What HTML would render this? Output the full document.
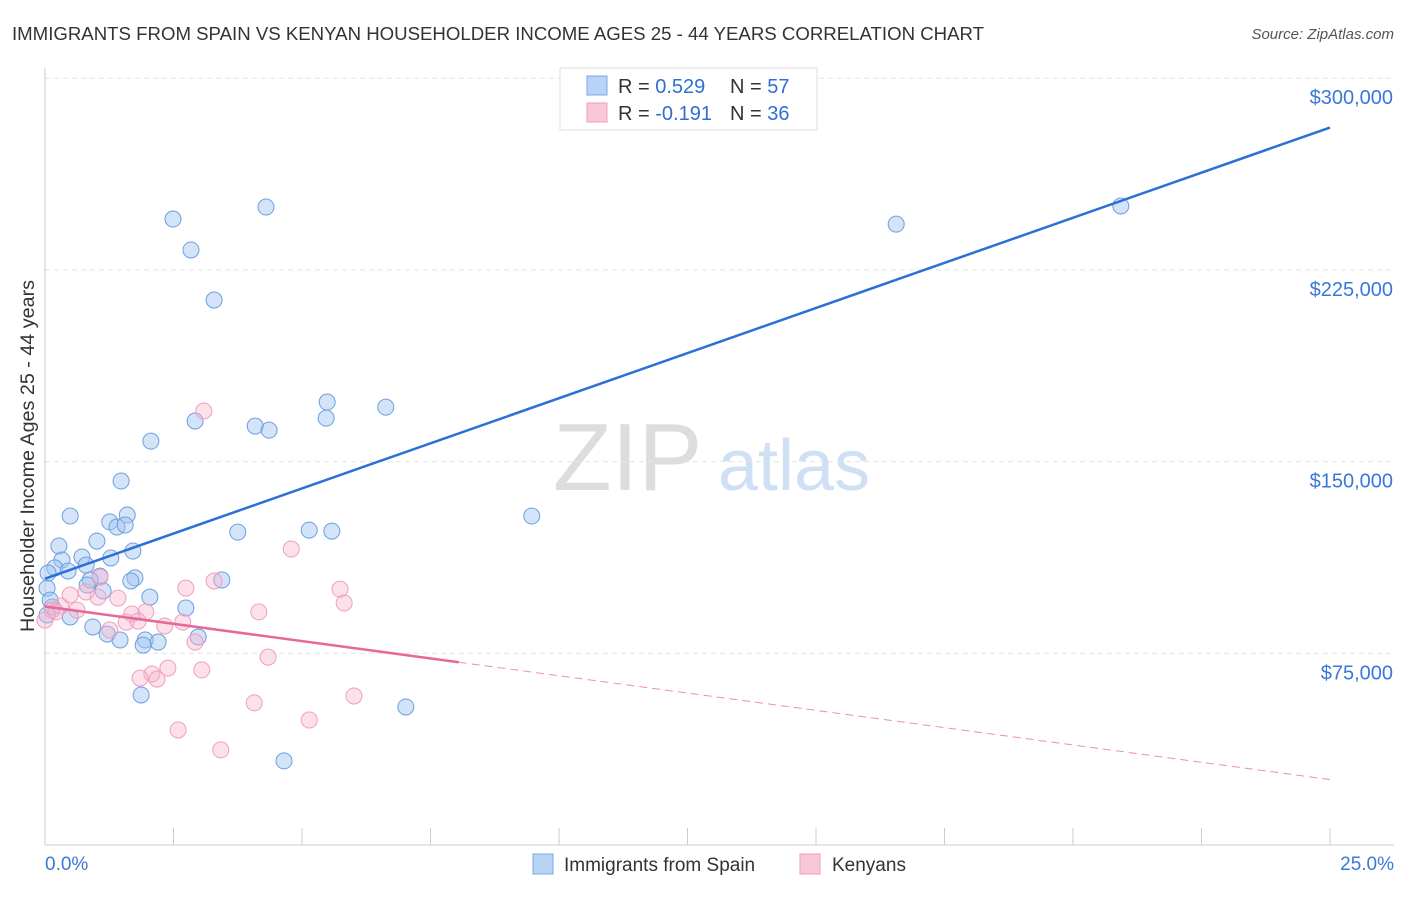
<!DOCTYPE html>
<html><head><meta charset="utf-8"><style>
body{margin:0;background:#fff;font-family:"Liberation Sans",sans-serif;}
svg text{font-family:"Liberation Sans",sans-serif;}
</style></head><body>
<svg id="chart" width="1406" height="892" xmlns="http://www.w3.org/2000/svg">
<text x="12" y="40" font-size="18" fill="#333" textLength="972" lengthAdjust="spacingAndGlyphs">IMMIGRANTS FROM SPAIN VS KENYAN HOUSEHOLDER INCOME AGES 25 - 44 YEARS CORRELATION CHART</text>
<text x="1394" y="39" font-size="15" fill="#555" font-style="italic" text-anchor="end">Source: ZipAtlas.com</text>
<text x="34" y="456" font-size="19" fill="#333" text-anchor="middle" textLength="352" lengthAdjust="spacingAndGlyphs" transform="rotate(-90 34 456)">Householder Income Ages 25 - 44 years</text>
<g><text x="553" y="490" font-size="96" fill="#ddd" font-family="Liberation Serif">ZIP</text><text x="718" y="490" font-size="72" fill="#cfe0f5">atlas</text></g>
<g id="grid"></g><g id="marks"></g>
<g>
<rect x="560" y="68" width="257" height="62" fill="#fff" stroke="#ddd"/>
<rect x="587" y="76" width="20" height="19" fill="#b8d3f5" stroke="#7aa8e8"/>
<rect x="587" y="103" width="20" height="19" fill="#f9c8d8" stroke="#ec9dbb"/>
<text x="618" y="93" font-size="20" fill="#333">R = <tspan fill="#2e6fd4">0.529</tspan></text>
<text x="730" y="93" font-size="20" fill="#333">N = <tspan fill="#2e6fd4">57</tspan></text>
<text x="618" y="120" font-size="20" fill="#333">R = <tspan fill="#2e6fd4">-0.191</tspan></text>
<text x="730" y="120" font-size="20" fill="#333">N = <tspan fill="#2e6fd4">36</tspan></text>
</g>
<g>
<rect x="533" y="854" width="20" height="20" fill="#b8d3f5" stroke="#7aa8e8"/>
<text x="564" y="871" font-size="19" fill="#333">Immigrants from Spain</text>
<rect x="800" y="854" width="20" height="20" fill="#f9c8d8" stroke="#ec9dbb"/>
<text x="832" y="871" font-size="19" fill="#333">Kenyans</text>
</g>
</svg>
<script>
const yTicks=[75000,150000,225000,300000];
const yTickLabels=["$75,000","$150,000","$225,000","$300,000"];
const xTickLabels=["0.0%","25.0%"];
const spainX=[2.49,4.30,2.84,3.29,20.93,16.56,5.49,6.63,5.47,2.92,4.09,4.36,2.06,1.48,0.49,1.60,1.26,1.40,1.56,9.47,3.75,5.14,5.58,1.01,0.27,1.71,0.72,1.28,0.33,0.80,0.19,0.45,0.06,1.07,0.88,1.75,1.67,3.44,0.04,0.82,1.13,2.04,0.14,2.74,0.49,0.93,1.21,1.46,1.95,2.20,1.91,2.98,1.87,7.02,4.65,0.04,0.10];
const spainY=[244900,249600,232800,213200,250000,242900,173300,171300,167000,165900,163900,162300,158000,142400,128700,129100,126400,124400,125200,128700,122400,123200,122800,118900,117000,115000,112700,112300,111500,109500,108400,107200,106400,105200,103700,104500,103300,103700,100500,101700,99400,97000,93100,92700,89200,85300,82500,80200,80200,79400,78200,81400,58700,54000,32900,90000,95800];
const kenX=[3.09,4.79,2.74,5.74,3.29,1.07,5.82,1.42,1.96,1.69,4.16,2.68,2.33,0.62,0.14,0.31,1.03,1.26,1.58,1.81,2.92,4.34,2.39,3.05,2.08,2.18,1.85,6.01,4.07,5.14,2.59,3.42,0,0.80,0.49,0.21];
const kenY=[169800,115800,100500,100100,103300,104800,94700,96600,91200,90400,91200,87200,85700,91900,91900,93500,97000,84100,87200,87600,79400,73500,69200,68500,66900,64900,65300,58300,55600,48900,45000,37200,88000,99000,97800,91200];
const spainTrend=[104200,280700];
const kenTrend=[93300,25600];
const X=v=>45+v*(1285/25), Y=v=>845-v*0.002556;
const NS="http://www.w3.org/2000/svg";
function mk(t,a,p){const e=document.createElementNS(NS,t);for(const k in a)e.setAttribute(k,a[k]);p.appendChild(e);return e;}
const g=document.getElementById('grid'),m=document.getElementById('marks');
yTicks.forEach((v,i)=>{
 const l=mk('line',{x1:45,y1:Y(v),x2:1394,y2:Y(v),stroke:'#e2e2e2','stroke-dasharray':'5,4'},g);
 
 
 const tx=mk('text',{x:1393,y:Y(v)+26,'font-size':20,fill:'#3a78d8','text-anchor':'end'},g);tx.textContent=yTickLabels[i];
 
 
});
const ax=mk('line',{x1:45,y1:845,x2:1394,y2:845,stroke:'#ccc'},g);


mk('line',{x1:45,y1:68,x2:45,y2:845,stroke:'#ccc'},g);
for(let i=0;i<=10;i++){const tk=mk('line',{x1:X(i*2.5),y1:828,x2:X(i*2.5),y2:845,stroke:'#ccc'},g);
 
 }
[[0,'start',45],[1,'end',1394]].forEach(([i,a,x])=>{const tx=mk('text',{x:x,y:870,'font-size':19,fill:'#3a78d8','text-anchor':a},g);tx.textContent=xTickLabels[i];
 
 });
spainX.forEach((x,i)=>{const c=mk('circle',{cx:X(x),cy:Y(spainY[i]),r:8,fill:'rgba(160,196,240,0.45)',stroke:'#6c9fe0','stroke-width':1},m);
 
 });
kenX.forEach((x,i)=>{const c=mk('circle',{cx:X(x),cy:Y(kenY[i]),r:8,fill:'rgba(247,180,205,0.4)',stroke:'#ee9fbd','stroke-width':1},m);
 
 });
const sl=mk('line',{x1:X(0),y1:Y(spainTrend[0]),x2:X(25),y2:Y(spainTrend[1]),stroke:'#2c6fd6','stroke-width':2.5},m);


const kx=8.05, ky=kenTrend[0]+(kenTrend[1]-kenTrend[0])*kx/25;
const kl=mk('line',{x1:X(0),y1:Y(kenTrend[0]),x2:X(kx),y2:Y(ky),stroke:'#e8679a','stroke-width':2.5},m);


const kd=mk('line',{x1:X(kx),y1:Y(ky),x2:X(25),y2:Y(kenTrend[1]),stroke:'#eb8fb3','stroke-width':1,'stroke-dasharray':'8,5'},m);


</script>
</body></html>
